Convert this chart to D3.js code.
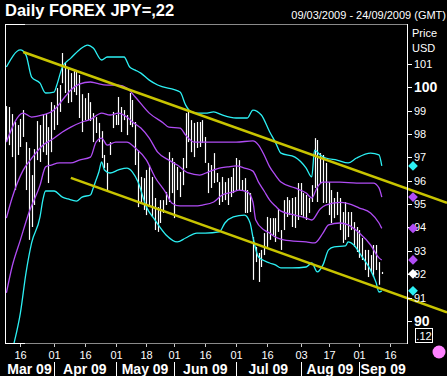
<!DOCTYPE html>
<html>
<head>
<meta charset="utf-8">
<script src="https://cdn.jsdelivr.net/npm/d3@7"></script>
<style>
  html, body { margin: 0; padding: 0; background: #000; }
  svg { display: block; }
  text { font-family: "Liberation Sans", Arial, sans-serif; fill: #fff; }
</style>
</head>
<body>
<div id="chart"></div>
<script>
// daily high / low, one value per trading day from 09/03/2009
var highs = [99.19, 99.15, 98.85, 98.51, 98.38, 98.64, 99.02, 97.65, 97.40, 96.24,
  97.35, 98.55, 98.38, 98.85, 98.85, 98.29, 99.36, 99.23, 99.96, 100.09,
  101.46, 101.03, 100.86, 100.60, 100.73, 100.73, 100.52, 99.70, 99.53, 99.75,
  99.36, 98.89, 98.72, 98.47, 98.12, 97.10, 96.76, 97.65, 98.94, 98.81,
  99.58, 99.15, 99.02, 98.81, 99.75, 99.45, 98.51, 97.31, 96.16, 96.11,
  96.46, 96.67, 96.16, 95.26, 94.87, 95.17, 95.17, 95.52, 97.22, 96.97,
  96.80, 96.59, 96.37, 96.97, 98.89, 98.94, 98.59, 98.47, 98.51, 98.51,
  98.59, 97.87, 96.76, 96.67, 97.18, 96.33, 95.94, 96.16, 95.94, 96.11,
  96.16, 96.54, 96.97, 96.88, 96.03, 96.11, 95.60, 95.47, 93.59, 93.17,
  92.91, 93.04, 93.76, 94.45, 94.40, 94.40, 94.40, 94.79, 93.89, 95.17,
  95.30, 95.17, 95.26, 95.30, 95.90, 95.90, 95.47, 95.39, 95.26, 95.81,
  97.82, 97.74, 97.18, 97.10, 96.76, 95.94, 95.60, 95.26, 95.52, 95.26,
  94.66, 95.09, 94.66, 94.66, 94.23, 94.02, 93.89, 93.55, 93.04, 93.04,
  92.82, 93.25, 93.25, 92.52, 92.10];
var lows = [97.65, 97.52, 97.01, 95.60, 97.10, 97.44, 97.87, 95.60, 93.47, 94.02,
  94.96, 96.88, 96.80, 97.22, 97.10, 95.90, 97.22, 98.17, 98.38, 98.94,
  100.17, 99.75, 99.32, 99.36, 99.79, 99.66, 98.68, 98.08, 98.59, 98.59,
  98.55, 97.65, 98.04, 97.65, 96.97, 96.54, 95.52, 97.10, 98.25, 98.38,
  98.38, 98.08, 98.59, 97.95, 98.38, 98.29, 96.67, 94.87, 95.09, 94.75,
  94.53, 94.96, 94.45, 93.89, 93.81, 94.19, 94.62, 94.96, 95.09, 95.47,
  94.40, 95.60, 95.30, 95.81, 96.54, 97.65, 97.22, 97.01, 97.40, 97.44,
  97.61, 96.76, 95.47, 95.69, 95.90, 95.94, 94.96, 95.09, 95.17, 94.96,
  95.30, 95.47, 95.60, 95.60, 95.60, 94.62, 94.62, 94.66, 91.76, 92.52,
  91.67, 92.31, 92.82, 93.17, 93.47, 93.68, 93.38, 93.81, 93.04, 93.89,
  94.45, 94.53, 94.02, 93.98, 94.32, 94.53, 94.40, 94.32, 94.62, 95.09,
  95.69, 95.09, 95.90, 95.05, 95.05, 94.53, 94.19, 94.40, 94.53, 93.89,
  93.34, 93.47, 93.59, 93.89, 93.17, 92.95, 92.70, 92.61, 92.18, 91.88,
  92.10, 91.88, 92.18, 91.55, 92.01];
var lastClose = 92.02;

// bollinger bands: [trading day index, price]
var bandUpper2 = [[0,100.86],[5,101.59],[7,101.37],[9,100.43],[12,100.17],[14,99.75],[17,99.79],[18,100.09],[20,100.86],[23,101.24],[26,101.59],[29,101.80],[31,101.67],[34,101.16],[36,101.29],[42,101.29],[44,100.86],[46,100.73],[48,100.60],[51,100.30],[54,100.09],[62,99.79],[64,99.23],[66,98.94],[68,98.89],[71,98.89],[74,98.94],[77,98.81],[82,98.68],[86,98.68],[88,99.02],[91,98.81],[94,98.08],[96,97.65],[98,97.18],[103,97.01],[107,96.54],[109,96.16],[110,97.31],[112,97.10],[114,96.97],[118,96.88],[122,96.76],[125,96.97],[130,97.18],[133,97.10],[134,96.63]];
var bandUpper1 = [[0,97.65],[6,98.89],[9,98.72],[13,98.81],[17,99.02],[20,99.45],[23,99.88],[26,100.13],[30,100.22],[32,100.17],[36,100.09],[40,100.09],[43,99.96],[46,99.58],[51,98.89],[56,98.47],[58,98.29],[62,98.25],[64,97.95],[67,97.65],[70,97.65],[76,97.65],[82,97.65],[88,97.70],[90,97.52],[92,97.10],[94,96.59],[96,96.24],[98,95.94],[103,95.69],[107,95.47],[109,95.26],[111,95.73],[113,95.94],[119,95.94],[125,95.90],[131,95.90],[133,95.69],[134,95.30]];
var bandMid = [[0,94.40],[2,95.25],[6,96.45],[9,96.95],[13,97.52],[16,97.74],[20,98.08],[23,98.29],[27,98.51],[30,98.62],[34,98.89],[37,98.81],[40,98.89],[43,98.72],[45,98.51],[48,98.25],[51,97.82],[54,97.22],[58,96.88],[61,96.67],[65,96.33],[69,96.24],[72,96.37],[76,96.54],[79,96.59],[82,96.63],[85,96.54],[88,96.41],[90,95.94],[92,95.56],[94,95.17],[96,94.92],[98,94.70],[103,94.53],[107,94.40],[109,94.32],[112,94.79],[114,94.96],[119,95.07],[122,95.02],[126,94.83],[130,94.62],[133,94.19],[134,93.96]];
var bandLower1 = [[0,91.20],[2,92.31],[5,93.47],[8,94.62],[12,95.81],[14,96.59],[16,96.67],[19,96.76],[23,96.76],[26,96.88],[30,97.01],[32,97.65],[34,97.82],[36,97.52],[39,97.65],[43,97.65],[46,97.40],[50,96.88],[53,96.16],[57,95.47],[59,95.05],[62,94.92],[67,94.92],[70,94.96],[74,95.09],[77,95.39],[81,95.52],[83,95.60],[86,95.52],[88,95.09],[89,94.32],[92,93.89],[94,93.76],[96,93.59],[99,93.47],[107,93.38],[110,93.34],[113,93.76],[115,94.11],[119,94.19],[122,94.11],[126,93.76],[130,93.25],[133,92.70],[134,92.61]];
var bandLower2 = [[0,87.95],[3,89.19],[5,90.35],[7,92.06],[9,93.34],[12,94.45],[13,95.17],[14,95.56],[17,95.56],[20,95.30],[22,95.22],[25,95.13],[27,95.30],[30,95.39],[31,95.69],[32,96.03],[33,96.37],[34,96.80],[35,96.46],[37,96.33],[40,96.46],[43,96.54],[45,96.37],[47,95.94],[50,94.87],[53,94.32],[57,93.68],[61,93.38],[64,93.55],[68,93.76],[71,93.76],[76,93.81],[78,94.19],[81,94.45],[85,94.53],[87,94.19],[88,93.59],[90,92.74],[94,92.48],[96,92.40],[98,92.27],[102,92.27],[107,92.31],[109,92.48],[111,92.10],[113,92.40],[115,93.04],[117,93.17],[121,93.21],[122,93.38],[124,93.25],[127,92.74],[130,92.18],[132,91.63],[133,91.24],[134,91.29]];

// trend channel anchors [trading day index, price]
var upperTrend = [[6, 101.50], [140, 95.79]];
var lowerTrend = [[23, 96.12], [140, 91.11]];

var priceTicks = [90, 91, 92, 93, 94, 95, 96, 97, 98, 99, 100, 101];
var majorTicks = [90, 100];
var dayTicks = ["2009-03-16", "2009-04-01", "2009-04-16", "2009-05-01", "2009-05-18", "2009-06-01",
  "2009-06-16", "2009-07-01", "2009-07-16", "2009-08-03", "2009-08-17", "2009-09-01", "2009-09-16"];
var monthStarts = ["2009-04-01", "2009-05-01", "2009-06-01", "2009-07-01", "2009-08-03", "2009-09-01"];
var monthLabels = ["Mar 09", "Apr 09", "May 09", "Jun 09", "Jul 09", "Aug 09", "Sep 09"];

var W = 447, H = 376;
var pLeft = 5, pRight = 407, pTop = 24, pBottom = 343;

// trading days (mon-fri) covering the header range
var parse = d3.timeParse("%Y-%m-%d"), fmt = d3.timeFormat("%Y-%m-%d");
var days = d3.timeDay.range(parse("2009-03-09"), parse("2009-09-25"))
  .filter(function(d) { return d.getDay() > 0 && d.getDay() < 6; });
var dayIndex = new Map(days.map(function(d, i) { return [fmt(d), i]; }));

var x = d3.scaleLinear().domain([-0.5, days.length - 1]).range([pLeft, pRight]);
var y = d3.scaleLinear().domain([89.06, 102.70]).range([pBottom, pTop]);

var svg = d3.select("#chart").append("svg").attr("width", W).attr("height", H);
svg.append("rect").attr("width", W).attr("height", H).attr("fill", "#000");

svg.append("clipPath").attr("id", "plot")
  .append("rect").attr("x", pLeft).attr("y", pTop).attr("width", pRight - pLeft).attr("height", pBottom - pTop);

var plot = svg.append("g").attr("clip-path", "url(#plot)");

// high-low bars
plot.selectAll("line.bar").data(highs).enter().append("line")
  .attr("class", "bar")
  .attr("x1", function(d, i) { return Math.round(x(i)) + 0.5; })
  .attr("x2", function(d, i) { return Math.round(x(i)) + 0.5; })
  .attr("y1", function(d) { return y(d); })
  .attr("y2", function(d, i) { return y(lows[i]); })
  .attr("stroke", "#fff").attr("stroke-width", 1.2);

var line = d3.line()
  .x(function(d) { return x(d[0]); })
  .y(function(d) { return y(d[1]); })
  .curve(d3.curveMonotoneX);

var cyan = "#2cf0f4", purple = "#b04cf4";
[[bandUpper2, cyan], [bandUpper1, purple], [bandMid, purple], [bandLower1, purple], [bandLower2, cyan]]
  .forEach(function(b) {
    plot.append("path").attr("d", line(b[0]))
      .attr("fill", "none").attr("stroke", b[1]).attr("stroke-width", 1.3);
  });

// trend channel, runs on to the edge of the picture
[upperTrend, lowerTrend].forEach(function(t) {
  var slope = (t[1][1] - t[0][1]) / (t[1][0] - t[0][0]);
  var endIdx = x.invert(W);
  var endPrice = t[0][1] + slope * (endIdx - t[0][0]);
  svg.append("line")
    .attr("x1", x(t[0][0])).attr("y1", y(t[0][1]))
    .attr("x2", W).attr("y2", y(endPrice))
    .attr("stroke", "#c8c400").attr("stroke-width", 2.6);
});

// frame
svg.append("line").attr("x1", pLeft).attr("x2", pRight).attr("y1", pTop + 0.5).attr("y2", pTop + 0.5).attr("stroke", "#8a8a8a");
svg.append("line").attr("x1", pLeft).attr("x2", pRight).attr("y1", pBottom + 0.5).attr("y2", pBottom + 0.5).attr("stroke", "#8a8a8a");
svg.append("line").attr("x1", pLeft).attr("x2", pLeft + 20).attr("y1", pTop + 0.5).attr("y2", pTop + 0.5).attr("stroke", "#fff");
svg.append("line").attr("x1", pLeft).attr("x2", pLeft + 20).attr("y1", pBottom + 0.5).attr("y2", pBottom + 0.5).attr("stroke", "#fff");
svg.append("line").attr("x1", pLeft + 0.5).attr("x2", pLeft + 0.5).attr("y1", pTop).attr("y2", pBottom + 1).attr("stroke", "#fff");
svg.append("line").attr("x1", pRight + 0.5).attr("x2", pRight + 0.5).attr("y1", pTop).attr("y2", pBottom + 1).attr("stroke", "#fff");

// price axis
var yAxis = svg.append("g");
priceTicks.forEach(function(p) {
  var yy = Math.round(y(p)) + 0.5;
  var major = majorTicks.indexOf(p) >= 0;
  yAxis.append("line").attr("x1", pRight + 1).attr("x2", pRight + 5).attr("y1", yy).attr("y2", yy).attr("stroke", "#fff");
  yAxis.append("text").attr("x", pRight + 7).attr("y", yy).attr("dy", "0.35em")
    .attr("font-size", major ? 14 : 11).attr("font-weight", major ? "bold" : "normal")
    .text(p);
});
svg.append("text").attr("x", 412).attr("y", 37).attr("font-size", 11).text("Price");
svg.append("text").attr("x", 412).attr("y", 52).attr("font-size", 11).text("USD");

// last value markers
var markers = [
  [bandUpper2[bandUpper2.length - 1][1], cyan],
  [bandUpper1[bandUpper1.length - 1][1], purple],
  [bandMid[bandMid.length - 1][1], purple],
  [bandLower1[bandLower1.length - 1][1], purple],
  [lastClose, "#fff"],
  [bandLower2[bandLower2.length - 1][1], cyan]
];
markers.forEach(function(m) {
  svg.append("path")
    .attr("transform", "translate(" + (pRight + 6) + "," + y(m[0]) + ") rotate(45)")
    .attr("d", d3.symbol().type(d3.symbolSquare).size(48)())
    .attr("fill", m[1]);
});

svg.append("rect").attr("x", 415.5).attr("y", 328.5).attr("width", 17).attr("height", 14)
  .attr("fill", "none").attr("stroke", "#fff");
svg.append("text").attr("x", 424).attr("y", 340).attr("text-anchor", "middle").attr("font-size", 11).text(".12");
svg.append("circle").attr("cx", 439).attr("cy", 352).attr("r", 6.5).attr("fill", "#ff82ff");

// date axis
var xAxis = svg.append("g");
dayTicks.forEach(function(s) {
  var xx = Math.round(x(dayIndex.get(s))) + 0.5;
  xAxis.append("line").attr("x1", xx).attr("x2", xx).attr("y1", 344).attr("y2", 347).attr("stroke", "#ccc");
  xAxis.append("text").attr("x", xx).attr("y", 359).attr("text-anchor", "middle")
    .attr("font-size", 11).text(s.slice(8));
});
var seps = [pLeft].concat(monthStarts.map(function(s) { return x(dayIndex.get(s)); })).concat([pRight]);
monthStarts.forEach(function(s) {
  var xx = Math.round(x(dayIndex.get(s))) + 0.5;
  xAxis.append("line").attr("x1", xx).attr("x2", xx).attr("y1", 362).attr("y2", 376).attr("stroke", "#fff");
});
monthLabels.forEach(function(m, i) {
  xAxis.append("text").attr("x", (seps[i] + seps[i + 1]) / 2).attr("y", 374)
    .attr("text-anchor", "middle").attr("font-size", 14).attr("font-weight", "bold").text(m);
});

// titles
svg.append("text").attr("x", 5).attr("y", 16).attr("font-size", 16.5).attr("font-weight", "bold")
  .text("Daily FOREX JPY=,22");
svg.append("text").attr("x", 446).attr("y", 19).attr("text-anchor", "end").attr("font-size", 11)
  .text("09/03/2009 - 24/09/2009 (GMT)");
</script>
</body>
</html>
